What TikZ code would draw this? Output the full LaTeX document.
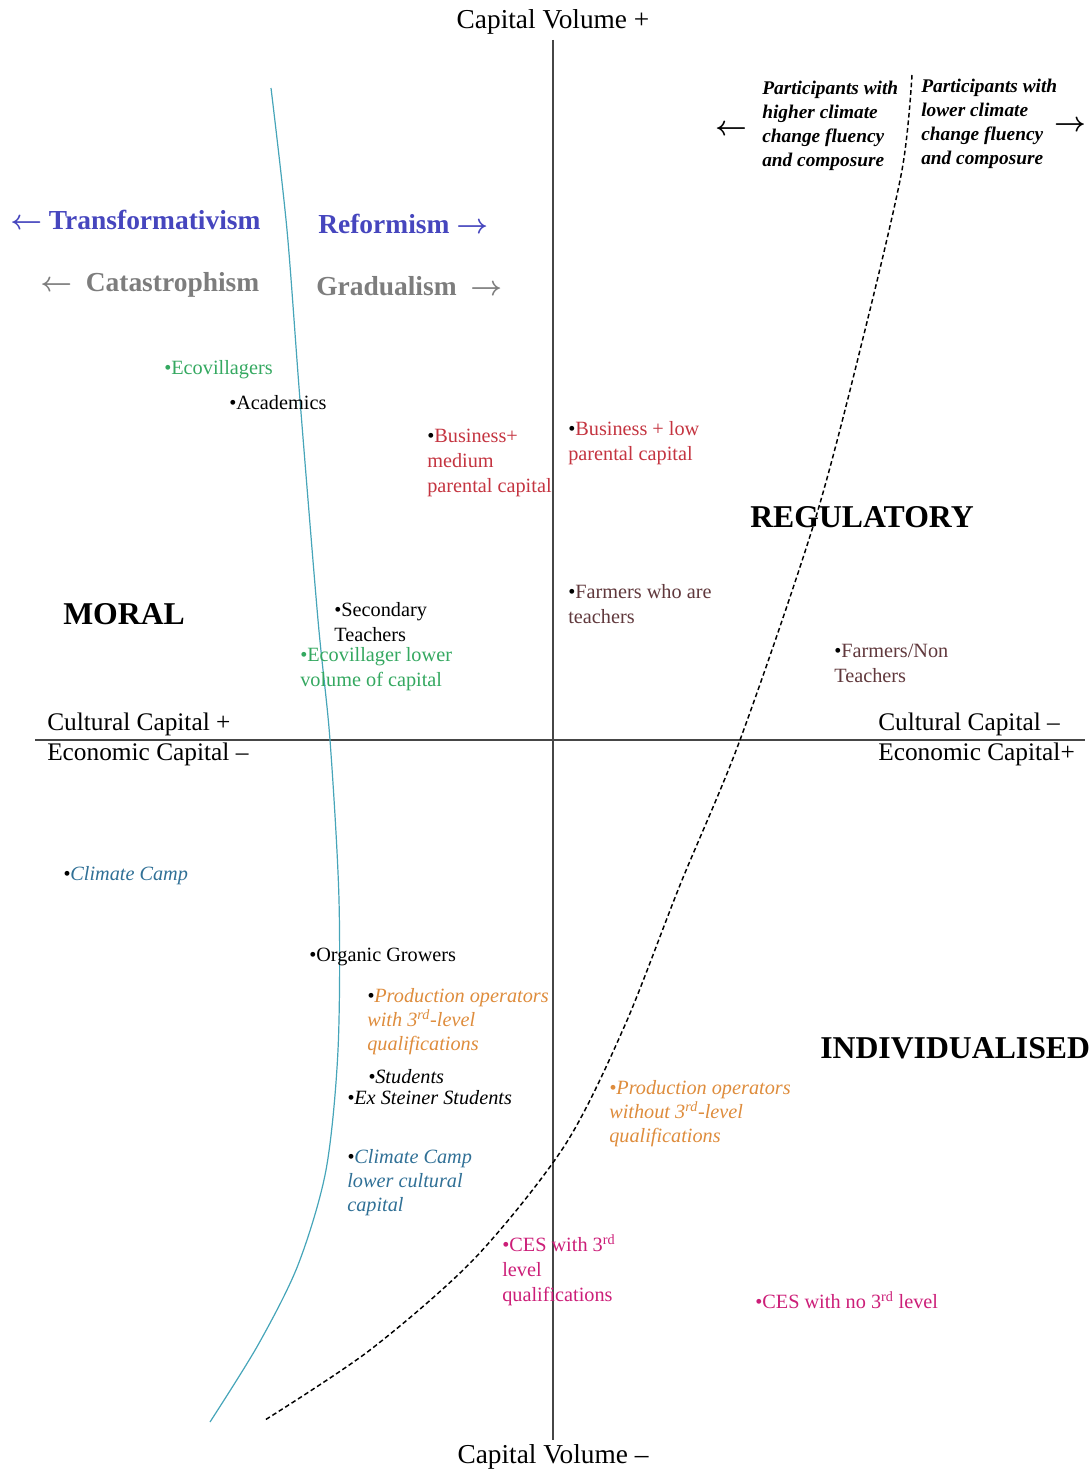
\documentclass[tikz,border=0pt]{standalone}
\usepackage{fontspec}
\setmainfont{Liberation Serif}
\usepackage{tikz}

\definecolor{ecogreen}{RGB}{52,168,96}
\definecolor{bizred}{RGB}{196,52,64}
\definecolor{farmbrown}{RGB}{96,56,60}
\definecolor{campblue}{RGB}{48,112,150}
\definecolor{prodorange}{RGB}{222,140,60}
\definecolor{cesmag}{RGB}{204,30,120}
\definecolor{ismblue}{RGB}{70,70,190}
\definecolor{ismgray}{RGB}{125,125,125}
\definecolor{curveteal}{RGB}{70,165,185}
\definecolor{axisgray}{RGB}{70,70,70}

\begin{document}
\begin{tikzpicture}[x=0.75pt,y=-0.75pt,
  lbl/.style={anchor=west,inner sep=0pt,align=left,font=\fontsize{15.2}{18.75}\selectfont},
  ilbl/.style={anchor=west,inner sep=0pt,align=left,font=\fontsize{15.2}{18}\selectfont\itshape},
  axlbl/.style={anchor=west,inner sep=0pt,font=\fontsize{19}{22}\selectfont},
  quad/.style={anchor=west,inner sep=0pt,font=\fontsize{23.8}{28}\selectfont\bfseries},
  ism/.style={anchor=west,inner sep=0pt,font=\fontsize{20.6}{24}\selectfont\bfseries\boldmath},
  fluency/.style={anchor=west,inner sep=0pt,align=left,font=\fontsize{14.5}{18}\selectfont\bfseries\itshape}]
\useasboundingbox (0,0) rectangle (1091,1470);

\draw[axisgray,line width=1.5pt] (553,40) -- (553,1440);
\draw[axisgray,line width=1.5pt] (35,740) -- (1085,740);
\node[above,inner sep=0pt,font=\fontsize{20.5}{24}\selectfont] (cvtop) at (553,35) {Capital Volume +};
\node[below,inner sep=0pt,font=\fontsize{20.5}{24}\selectfont] (cvbot) at (553,1444) {Capital Volume --};

\draw[curveteal,line width=0.9pt] plot[smooth] coordinates {(271,88) (287,230) (300,400) (318,620) (330,740) (339,900) (338,1050) (326,1170) (298,1265) (258,1345) (210,1422)};
\draw[black,line width=1.1pt,dash pattern=on 3.5pt off 2.2pt] plot[smooth] coordinates {(912,75) (902,170) (865,330) (815,520) (740,740) (680,885) (625,1025) (565,1145) (475,1258) (370,1350) (265,1420)};

\node[fluency] (higher) at (762,126) {Participants with\\higher climate\\change fluency\\and composure};
\node[fluency] (lower) at (921,124) {Participants with\\lower climate\\change fluency\\and composure};
\node[anchor=center,inner sep=0pt,font=\fontsize{21}{24}\selectfont\boldmath] (larr) at (731,130) {$\leftarrow$};
\node[anchor=center,inner sep=0pt,font=\fontsize{21}{24}\selectfont\boldmath] (rarr) at (1070,126) {$\rightarrow$};

\node[ism,ismblue] (transf) at (10,220) {$\leftarrow$ Transformativism};
\node[ism,ismblue] (reform) at (318,224) {Reformism $\rightarrow$};
\node[ism,ismgray] (catas) at (40,285) {$\leftarrow$\ \ Catastrophism};
\node[ism,ismgray] (grad) at (316,286) {Gradualism\ \ $\rightarrow$};

\node[lbl,ecogreen] (ecov) at (164,370) {\textbullet Ecovillagers};
\node[lbl] (acad) at (229,403) {\textbullet Academics};
\node[lbl,bizred] (bizmed) at (427,463) {\textcolor{black}{\textbullet}Business+\\medium\\parental capital};
\node[lbl,bizred] (bizlow) at (568,443) {\textcolor{black}{\textbullet}Business + low\\parental capital};
\node[quad] (regul) at (750,517) {REGULATORY};
\node[quad] (moral) at (63,614) {MORAL};
\node[lbl] (secteach) at (334,622) {\textbullet Secondary\\Teachers};
\node[lbl,ecogreen] (ecolow) at (300,669) {\textbullet Ecovillager lower\\volume of capital};
\node[lbl,farmbrown] (farmteach) at (568,604) {\textcolor{black}{\textbullet}Farmers who are\\teachers};
\node[lbl,farmbrown] (farmnon) at (834,663) {\textcolor{black}{\textbullet}Farmers/Non\\Teachers};

\node[axlbl] (cultplus) at (47,724) {Cultural Capital +};
\node[axlbl] (econminus) at (47,754) {Economic Capital --};
\node[axlbl] (cultminus) at (878,724) {Cultural Capital --};
\node[axlbl] (econplus) at (878,754) {Economic Capital+};

\node[ilbl,campblue] (camp) at (63,876) {\textcolor{black}{\textbullet}Climate Camp};
\node[lbl] (organic) at (309,957) {\textbullet Organic Growers};
\node[ilbl,prodorange] (prodwith) at (367,1022) {\textcolor{black}{\textbullet}Production operators\\with 3\textsuperscript{rd}-level\\qualifications};
\node[quad] (indiv) at (820,1048) {INDIVIDUALISED};
\node[ilbl] (students) at (368,1077) {\textbullet Students};
\node[ilbl] (steiner) at (347,1098) {\textbullet Ex Steiner Students};
\node[ilbl,prodorange] (prodwithout) at (609,1114) {\textbullet Production operators\\without 3\textsuperscript{rd}-level\\qualifications};
\node[ilbl,campblue] (camplow) at (347,1183) {\textcolor{black}{\textbullet}Climate Camp\\lower cultural\\capital};
\node[lbl,cesmag] (ceswith) at (502,1270) {\textbullet CES with 3\textsuperscript{rd}\\level\\qualifications};
\node[lbl,cesmag] (cesno) at (755,1300) {\textbullet CES with no 3\textsuperscript{rd} level};
\end{tikzpicture}
\end{document}
